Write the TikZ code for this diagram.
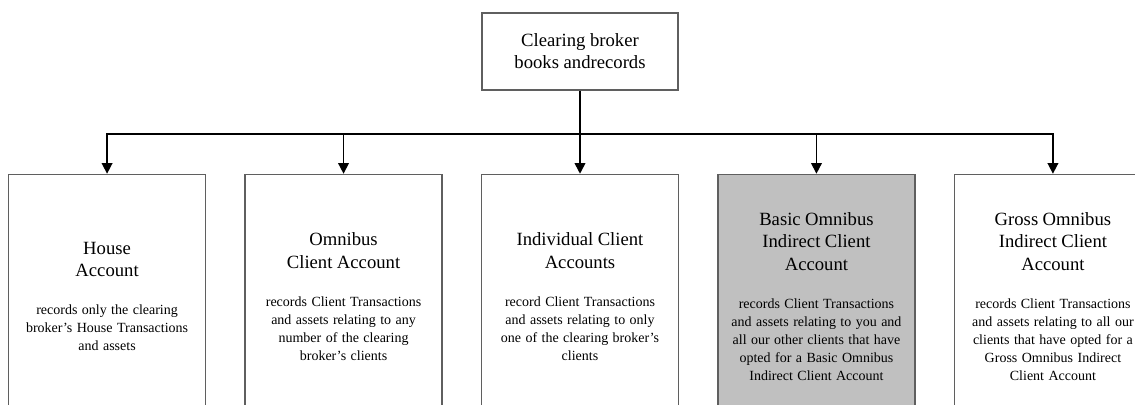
\documentclass[tikz,border=0pt]{standalone}
\usepackage{fontspec}
\setmainfont{Liberation Serif}
\usepackage{xcolor}
\usepackage{tikz}
\usetikzlibrary{arrows.meta,positioning}
\definecolor{borda}{RGB}{95,95,95}
\definecolor{cinza}{RGB}{192,192,192}
\newcommand{\titulo}[1]{{\fontsize{14}{17}\selectfont #1\par}\vspace{15pt}}
\newcommand{\descricao}[1]{{\fontsize{10.5}{13.5}\selectfont #1\par}}
\tikzset{
    bloco/.style={
        rectangle,
        draw=borda,
        line width=1.1pt,
        fill=white,
        align=center,
        inner sep=0pt
    },
    topo/.style={bloco, minimum width=147pt, minimum height=57.75pt,
        font=\fontsize{14}{16.5}\selectfont},
    conta/.style={bloco, text width=140pt, minimum width=147.75pt, minimum height=183pt},
    destaque/.style={conta, fill=cinza},
    fluxo/.style={-{Triangle[length=8pt,width=8pt]}, line width=1.2pt}
}

\begin{document}
\begin{tikzpicture}[x=0.75pt, y=-0.75pt, node distance=62.25pt and 28.5pt]
    \useasboundingbox (0,0) rectangle (1135,404);
    \clip (0,0) rectangle (1135,404);

    \node[topo] (corretora) at (580,51.5) {Clearing broker\\books andrecords};
    \node[conta, below=of corretora] (individual)
        {\titulo{Individual Client\\Accounts}%
         \descricao{record Client Transactions\\and assets relating to only\\one of the clearing broker's\\clients}};
    \node[conta, left=of individual] (omnibus)
        {\titulo{Omnibus\\Client Account}%
         \descricao{records Client Transactions\\and assets relating to any\\number of the clearing\\broker's clients}};
    \node[conta, left=of omnibus] (casa)
        {\titulo{House\\Account}%
         \descricao{records only the clearing\\broker's House Transactions\\and assets}};
    \node[destaque, right=of individual] (basico)
        {\titulo{Basic Omnibus\\Indirect Client\\Account}%
         \descricao{records Client Transactions\\and assets relating to you and\\all our other clients that have\\opted for a Basic Omnibus\\Indirect Client Account}};
    \node[conta, right=of basico] (bruto)
        {\titulo{Gross Omnibus\\Indirect Client\\Account}%
         \descricao{records Client Transactions\\and assets relating to all our\\clients that have opted for a\\Gross Omnibus Indirect\\Client Account}};

    \coordinate (barra) at (580,134);

    \draw[fluxo] (corretora) -- (individual);
    \draw[fluxo] (barra) -| (casa);
    \draw[fluxo] (barra) -| (omnibus);
    \draw[fluxo] (barra) -| (basico);
    \draw[fluxo] (barra) -| (bruto);
\end{tikzpicture}
\end{document}
